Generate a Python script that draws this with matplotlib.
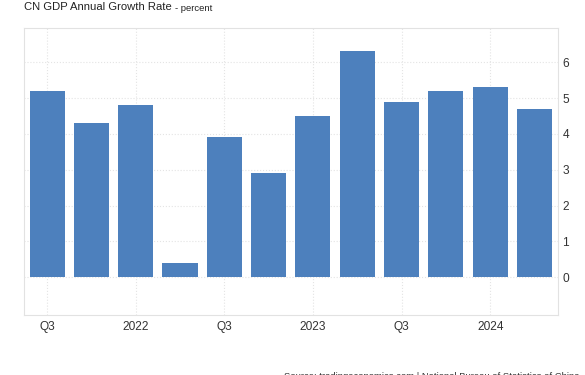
import matplotlib.pyplot as plt
import numpy as np

quarters = ["2021Q3", "2021Q4", "2022Q1", "2022Q2", "2022Q3", "2022Q4",
            "2023Q1", "2023Q2", "2023Q3", "2023Q4", "2024Q1", "2024Q2"]
growth = [5.2, 4.3, 4.8, 0.4, 3.9, 2.9, 4.5, 6.3, 4.9, 5.2, 5.3, 4.7]
tick_idx = [0, 2, 4, 6, 8, 10]
tick_labels = ["Q3", "2022", "Q3", "2023", "Q3", "2024"]
y_ticks = [0, 1, 2, 3, 4, 5, 6]

plt.rcParams["font.family"] = ["Liberation Sans", "DejaVu Sans"]

fig = plt.figure(figsize=(5.85, 3.75), dpi=100)
ax = fig.add_axes([0.041, 0.16, 0.913, 0.765])

x = np.arange(len(quarters))
ax.bar(x, growth, width=0.79, color="#4d80bd", zorder=2)

ax.set_xlim(-0.52, 11.53)
ax.set_ylim(-1.05, 6.95)
ax.set_xticks(tick_idx)
ax.set_xticklabels(tick_labels)
ax.set_yticks(y_ticks)
ax.yaxis.tick_right()
ax.tick_params(axis="both", length=0, labelsize=8.6, colors="#333333")
ax.tick_params(axis="x", pad=4)
ax.tick_params(axis="y", pad=3)
ax.grid(True, color="#e4e4e4", linestyle=":", linewidth=0.8, zorder=0)
for s in ax.spines.values():
    s.set_color("#e2e2e2")
    s.set_linewidth(0.8)

fig.text(0.041, 0.995, "CN GDP Annual Growth Rate", fontsize=8.1, color="#222222",
         ha="left", va="top")
fig.text(0.299, 0.99, "- percent", fontsize=6.8, color="#222222", ha="left", va="top")
fig.text(0.485, -0.004, "Source: tradingeconomics.com | National Bureau of Statistics of China",
         fontsize=6.8, color="#333333", ha="left", va="center")

fig.savefig("out.png", dpi=100)
